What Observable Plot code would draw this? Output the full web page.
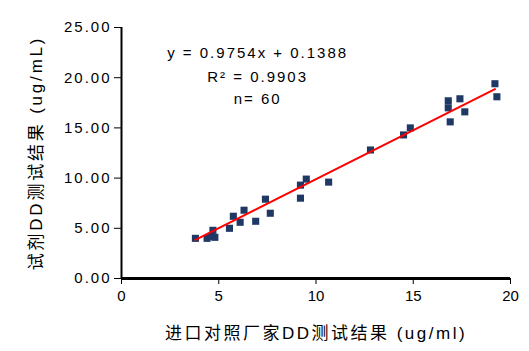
<!DOCTYPE html>
<html><head><meta charset="utf-8">
<script src="https://cdn.jsdelivr.net/npm/d3@7"></script>
<script src="https://cdn.jsdelivr.net/npm/@observablehq/plot@0.6"></script>
<style>
body{margin:0;background:#fff;}
#chart svg{font-family:"Liberation Sans","Noto Sans CJK SC",sans-serif;}
#chart g.axlab text{letter-spacing:2.5px;}
#chart g[aria-label="y-axis label"] text{letter-spacing:2.8px;font-size:17px;}
#chart g[aria-label="y-axis tick label"] text{letter-spacing:2px;}
#chart g.annot text{letter-spacing:2px;}
</style></head>
<body><div id="chart"></div>
<script>
const refX = [3.8,4.4,4.6,4.8,4.7,5.55,5.75,6.1,6.3,6.9,7.4,7.65,9.2,9.5,9.2,10.65,12.8,14.5,14.85,16.8,16.8,16.9,17.4,17.65,19.2,19.3];
const testY = [4.0,4.0,4.2,4.1,4.8,5.0,6.2,5.6,6.8,5.7,7.9,6.5,9.3,9.9,8.0,9.6,12.8,14.3,15.0,17.0,17.7,15.6,17.9,16.6,19.4,18.1];
const slope = 0.9754, intercept = 0.1388;
const fitX = [3.8, 19.2];
const annotLines = ["y = 0.9754x + 0.1388", "R² = 0.9903", "n= 60"];
const annotX = [7.0, 7.0, 7.0];
const annotY = [22.4, 20.1, 17.85];
const xTicks = [0,5,10,15,20];
const yTicks = [0,5,10,15,20,25];
const xLabel = "进口对照厂家DD测试结果 (ug/ml)";
const yLabel = "试剂DD测试结果 (ug/mL)";

const pts = refX.map((x,i)=>({x, y:testY[i]}));
const fit = fitX.map(x=>({x, y: slope*x+intercept}));
const annot = annotLines.map((t,i)=>({t, x:annotX[i], y:annotY[i]}));

const chart = Plot.plot({
  width: 529, height: 351,
  marginLeft: 121, marginRight: 19, marginTop: 27, marginBottom: 73,
  style: {fontSize: "15px", color: "#000"},
  x: {domain:[0,20]},
  y: {domain:[0,25]},
  marks: [
    Plot.axisX({ticks:xTicks, tickSize:6, tickPadding:6, tickFormat:d3.format("d"), fontSize:15, label:null}),
    Plot.axisY({ticks:yTicks, tickSize:7, tickPadding:3, tickFormat:d3.format(".2f"), fontSize:15,
      label:yLabel, labelAnchor:"center", labelOffset:92, labelArrow:"none"}),
    Plot.text([xLabel], {frameAnchor:"bottom", dy:55, lineAnchor:"middle", fontSize:17, className:"axlab"}),
    Plot.ruleX([0], {stroke:"#000", strokeWidth:2}),
    Plot.ruleY([0], {stroke:"#000", strokeWidth:3}),
    Plot.dot(pts, {x:"x", y:"y", symbol:"square", r:4, fill:"#1f3864", stroke:"none"}),
    Plot.line(fit, {x:"x", y:"y", stroke:"#ff0000", strokeWidth:2}),
    Plot.text(annot, {x:"x", y:"y", text:"t", fontSize:15, fill:"#000", className:"annot"})
  ]
});
document.getElementById("chart").append(chart);
</script></body></html>
